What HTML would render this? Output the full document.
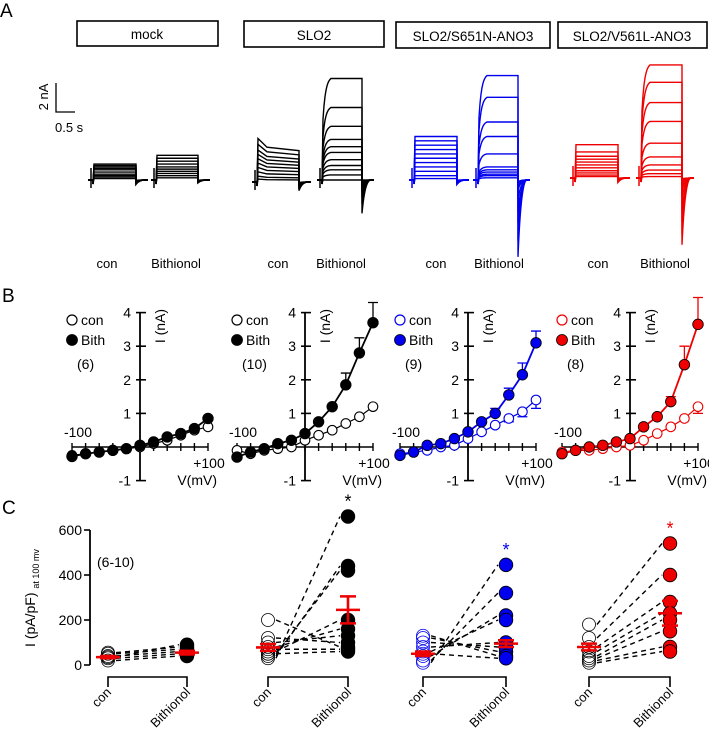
<!DOCTYPE html>
<html><head><meta charset="utf-8">
<style>
html,body{margin:0;padding:0;background:#fff;}
svg{display:block;font-family:"Liberation Sans",Arial,sans-serif;}
</style></head>
<body>
<svg id="fig" width="709" height="742" viewBox="0 0 709 742" xmlns="http://www.w3.org/2000/svg">
<text x="0" y="17" font-size="19">A</text>
<g font-size="13.5" text-anchor="middle" fill="none">
 <rect x="77" y="21" width="141" height="25" stroke="#000" stroke-width="1.6"/>
 <text x="147" y="39" fill="#000">mock</text>
 <rect x="244" y="21" width="140" height="26" stroke="#000" stroke-width="1.6"/>
 <text x="314" y="40" fill="#000">SLO2</text>
 <rect x="396" y="22" width="154" height="26" stroke="#000" stroke-width="1.6"/>
 <text x="473" y="41" fill="#000">SLO2/S651N-ANO3</text>
 <rect x="558" y="22" width="149" height="26" stroke="#000" stroke-width="1.6"/>
 <text x="632" y="41" fill="#000">SLO2/V561L-ANO3</text>
</g>
<g>
 <path d="M56 83 V112 H75" stroke="#000" stroke-width="1.3" fill="none"/>
 <text transform="translate(48,97) rotate(-90)" font-size="13" text-anchor="middle">2 nA</text>
 <text x="55" y="132" font-size="13">0.5 s</text>
</g>
<g id="traces"></g>
<g font-size="13" text-anchor="middle">
 <text x="107" y="268">con</text><text x="176" y="268">Bithionol</text>
 <text x="278" y="268">con</text><text x="341" y="268">Bithionol</text>
 <text x="436" y="268">con</text><text x="499" y="268">Bithionol</text>
 <text x="598" y="268">con</text><text x="665" y="268">Bithionol</text>
</g>
<text x="2" y="302" font-size="19">B</text>
<g id="ivs"></g>
<text x="2" y="514" font-size="19">C</text>
<g id="scat"></g>
</svg>
<script>
// ---------- Panel A data (nA, relative to holding) ----------
const traceColors = ['#000','#000','#0000ee','#ee0000'];
const mockCon = [1.1,1.0,0.9,0.8,0.7,0.55,0.4,0.3,0.2,0.1];
const mockBith = [1.7,1.5,1.3,1.1,0.9,0.75,0.6,0.45,0.3,0.15];
const sloCon = [3.0,2.6,2.2,1.9,1.6,1.3,1.0,0.7,0.4,0.2];
const sloBith = [7.0,5.0,3.7,2.8,2.3,1.9,1.4,1.0,0.7,0.35,0.0];
const blueCon = [3.0,2.7,2.4,2.1,1.8,1.5,1.2,0.9,0.6,0.3,0.1];
const blueBith = [7.2,5.7,4.0,3.0,1.8,0.9,0.7,0.55,0.4,0.3,0.15];
const redCon = [2.3,1.8,1.5,1.3,1.1,0.9,0.7,0.5,0.35,0.2,0.1];
const redBith = [7.8,6.6,5.2,3.9,2.4,1.45,0.9,0.55,0.3,0.1];
const tailMax = [0.3,0.2,0.6,2.3,0.3,5.3,0.3,4.6];

// ---------- Panel B data ----------
const voltages = [-100,-80,-60,-40,-20,0,20,40,60,80,100];
const ivCon = [
 [-0.25,-0.2,-0.15,-0.1,-0.05,0,0.1,0.2,0.35,0.5,0.6],
 [-0.1,-0.2,-0.1,-0.05,0,0.2,0.35,0.5,0.7,0.9,1.2],
 [-0.2,-0.15,-0.1,0,0.05,0.25,0.45,0.65,0.85,1.05,1.4],
 [-0.15,-0.1,-0.1,-0.05,0,0.05,0.2,0.4,0.6,0.85,1.2]];
const ivBith = [
 [-0.28,-0.2,-0.15,-0.1,-0.05,0.05,0.15,0.3,0.4,0.55,0.85],
 [-0.3,-0.15,-0.05,0.1,0.2,0.4,0.75,1.2,1.85,2.8,3.7],
 [-0.25,-0.15,0.05,0.1,0.25,0.45,0.75,1.0,1.55,2.15,3.1],
 [-0.2,-0.1,0,0.05,0.15,0.25,0.6,0.9,1.35,2.45,3.65]];
const ivBithErr = [
 [0,0,0,0,0,0,0,0,0,0,0],
 [0,0,0,0,0,0,0,0,0.35,0.45,0.6],
 [0,0,0,0,0,0,0,0.15,0.2,0.35,0.35],
 [0,0,0,0,0,0,0,0,0.15,0.55,0.8]];
const ivConErr = [
 [0,0,0,0,0,0,0,0,0,0,0],
 [0,0,0,0,0,0,0,0,0,0,0],
 [0,0,0,0,0,0,0,0,0.1,0.15,0.25],
 [0,0,0,0,0,0,0,0,0,0,0.2]];
const ivN = ['(6)','(10)','(9)','(8)'];
const yTicksB = [-1,1,2,3,4];

// ---------- Panel C data (pA/pF) ----------
const pcCon = [
 [20,30,40,50,55,35],
 [30,40,50,60,80,100,120,200,70,50],
 [10,20,40,60,80,100,120,130,50],
 [180,120,80,60,40,30,20,10]];
const pcBith = [
 [40,50,60,70,80,90],
 [660,440,420,200,160,130,100,80,70,60],
 [445,320,220,200,100,80,60,40,30],
 [540,400,280,230,200,150,80,60]];
const pcConMean = [35,78,50,80];
const pcConSem = [5,15,10,15];
const pcBithMean = [55,245,95,230];
const pcBithSem = [8,60,15,55];
const yTicksC = [0,200,400,600];

const NS='http://www.w3.org/2000/svg';
function mk(tag,parent){const e=document.createElementNS(NS,tag);parent.appendChild(e);return e;}

// ---------- Draw panel A ----------
const T=document.getElementById('traces');
const pxPerNA=14.5;
const traceSets=[
 {lv:mockCon,x0:93,x1:136,base:180,c:0,slow:false},
 {lv:mockBith,x0:156,x1:198,base:180,c:1,slow:false},
 {lv:sloCon,x0:257,x1:299,base:182,c:0,slow:false,decay:true},
 {lv:sloBith,x0:322,x1:362,base:180,c:1,slow:true},
 {lv:blueCon,x0:414,x1:457,base:180,c:2,slow:false},
 {lv:blueBith,x0:478,x1:518,base:180,c:2,slow:true},
 {lv:redCon,x0:575,x1:618,base:178,c:3,slow:false},
 {lv:redBith,x0:641,x1:682,base:178,c:3,slow:true}];
traceSets.forEach((s,si)=>{
 const col=traceColors[s.c];
 const g=mk('g',T);
 
 
 const spike=mk('path',g);
 
 
 spike.setAttribute('d',`M${s.x0-2} ${s.base-12} V${s.base+8}`);
 spike.setAttribute('stroke',col);
 spike.setAttribute('stroke-width','1.5');
 const mx=Math.max(...s.lv);
 s.lv.forEach(v=>{
  const p=mk('path',g);
  
  
  const yL=s.base-v*pxPerNA;
  let d=`M${s.x0-5} ${s.base} H${s.x0} V${s.base+4} `;
  if(s.slow){
   d+=`L${s.x0+1} ${s.base-v*pxPerNA*0.6} `;
   for(let k=1;k<=8;k++){const t=k/8;d+=`L${s.x0+1+t*8} ${s.base-v*pxPerNA*(0.6+0.4*(1-Math.exp(-3*t))/(1-Math.exp(-3)))} `;}
   d+=`H${s.x1} `;
  } else if(s.decay){
   d+=`L${s.x0+1} ${yL} L${s.x0+10} ${s.base-v*pxPerNA*0.8} L${s.x1} ${s.base-v*pxPerNA*0.72} `;
  } else {
   d+=`L${s.x0+1} ${yL} H${s.x1} `;
  }
  const tl=tailMax[si]*v/mx;
  d+=`V${s.base+tl*pxPerNA} Q${s.x1+3} ${s.base} ${s.x1+9} ${s.base} H${s.x1+12}`;
  p.setAttribute('d',d);
  p.setAttribute('fill','none');
  p.setAttribute('stroke',col);
  p.setAttribute('stroke-width','1.4');
 });
});

// ---------- Draw panel B ----------
const IV=document.getElementById('ivs');
const axX=[140,305,468,630];
const y0B=447, pxNA=33.6, pxMV=0.68;
const ivColors=['#000','#000','#0000ee','#ee0000'];
for(let p=0;p<4;p++){
 const g=mk('g',IV);
 
 
 const ax=axX[p], col=ivColors[p];
 const sx=v=>ax+v*pxMV, sy=i=>y0B-i*pxNA;
 const xa=mk('line',g);
 
 
 xa.setAttribute('x1',sx(-100));xa.setAttribute('x2',sx(100));xa.setAttribute('y1',y0B);xa.setAttribute('y2',y0B);
 xa.setAttribute('stroke','#000');xa.setAttribute('stroke-width','1.6');
 voltages.forEach(v=>{const t=mk('line',g);t.setAttribute('x1',sx(v));t.setAttribute('x2',sx(v));t.setAttribute('y1',y0B-4);t.setAttribute('y2',y0B+4);t.setAttribute('stroke','#000');t.setAttribute('stroke-width','1.4');});
 const yax=mk('line',g);
 
 
 yax.setAttribute('x1',ax);yax.setAttribute('x2',ax);yax.setAttribute('y1',sy(4));yax.setAttribute('y2',sy(-1));
 yax.setAttribute('stroke','#000');yax.setAttribute('stroke-width','1.8');
 yTicksB.forEach(v=>{const t=mk('line',g);t.setAttribute('x1',ax-4);t.setAttribute('x2',ax+6);t.setAttribute('y1',sy(v));t.setAttribute('y2',sy(v));t.setAttribute('stroke','#000');t.setAttribute('stroke-width','1.6');
  const l=mk('text',g);l.setAttribute('x',ax-9);l.setAttribute('y',sy(v)+5);l.setAttribute('font-size','14');l.setAttribute('text-anchor','end');l.textContent=v;});
 const ytt=mk('text',g);
 
 
 ytt.setAttribute('transform',`translate(${ax+25},${sy(3.6)}) rotate(-90)`);ytt.setAttribute('font-size','14');ytt.setAttribute('text-anchor','middle');ytt.textContent='I (nA)';
 const xl=mk('text',g);
 
 
 xl.setAttribute('x',sx(-100)+6);xl.setAttribute('y',y0B-10);xl.setAttribute('font-size','14');xl.setAttribute('text-anchor','middle');xl.textContent='-100';
 const xr=mk('text',g);
 
 
 xr.setAttribute('x',sx(100)+1);xr.setAttribute('y',y0B+21);xr.setAttribute('font-size','14');xr.setAttribute('text-anchor','middle');xr.textContent='+100';
 const xt=mk('text',g);
 
 
 xt.setAttribute('x',sx(100)+9);xt.setAttribute('y',y0B+38);xt.setAttribute('font-size','14');xt.setAttribute('text-anchor','end');xt.textContent='V(mV)';
 const lx=ax-68;
 const c1=mk('circle',g);
 
 
 c1.setAttribute('cx',lx);c1.setAttribute('cy',320);c1.setAttribute('r',5);c1.setAttribute('fill','#fff');c1.setAttribute('stroke',col);c1.setAttribute('stroke-width','1.2');
 const t1=mk('text',g);
 
 
 t1.setAttribute('x',lx+9);t1.setAttribute('y',325);t1.setAttribute('font-size','14');t1.textContent='con';
 const c2=mk('circle',g);
 
 
 c2.setAttribute('cx',lx);c2.setAttribute('cy',340);c2.setAttribute('r',5.5);c2.setAttribute('fill',col);c2.setAttribute('stroke','#000');c2.setAttribute('stroke-width','0.8');
 const t2=mk('text',g);
 
 
 t2.setAttribute('x',lx+9);t2.setAttribute('y',345);t2.setAttribute('font-size','14');t2.textContent='Bith';
 const tn=mk('text',g);
 
 
 tn.setAttribute('x',lx+5);tn.setAttribute('y',369);tn.setAttribute('font-size','14');tn.textContent=ivN[p];
 [[ivCon[p],ivConErr[p],false],[ivBith[p],ivBithErr[p],true]].forEach(([vals,errs,filled])=>{
  const sg=mk('g',g);
  
  
  const ln=mk('polyline',sg);
  ln.setAttribute('points',vals.map((v,i)=>sx(voltages[i])+','+sy(v)).join(' '));
  ln.setAttribute('fill','none');ln.setAttribute('stroke',col);ln.setAttribute('stroke-width',filled?1.8:1.2);
  vals.forEach((v,i)=>{
   if(errs[i]>0){const e=mk('path',sg);const x=sx(voltages[i]),y=sy(v),ye=sy(v+(filled?1:-1)*errs[i]);
    e.setAttribute('d',`M${x} ${y} V${ye} M${x-5} ${ye} H${x+5}`);e.setAttribute('stroke',col);e.setAttribute('stroke-width','1.3');}
  });
  vals.forEach((v,i)=>{
   const c=mk('circle',sg);
   
   
   c.setAttribute('cx',sx(voltages[i]));c.setAttribute('cy',sy(v));c.setAttribute('r',filled?5.3:4.8);
   c.setAttribute('fill',filled?col:'#fff');c.setAttribute('stroke',filled?'#000':col);c.setAttribute('stroke-width',filled?0.8:1.1);
  });
 });
}

// ---------- Draw panel C ----------
const SC=document.getElementById('scat');
const conX=[108,268,423,589], bithX=[187,348,506,670];
const y0C=665, pxU=135/600;
const scCol=['#000','#000','#0000ee','#ee0000'];
const syC=v=>y0C-v*pxU;
const yaC=mk('line',SC);


yaC.setAttribute('x1',90);yaC.setAttribute('x2',90);yaC.setAttribute('y1',syC(600));yaC.setAttribute('y2',syC(0));yaC.setAttribute('stroke','#000');yaC.setAttribute('stroke-width','1.8');
yTicksC.forEach(v=>{const t=mk('line',SC);t.setAttribute('x1',84);t.setAttribute('x2',90);t.setAttribute('y1',syC(v));t.setAttribute('y2',syC(v));t.setAttribute('stroke','#000');t.setAttribute('stroke-width','1.6');
 const l=mk('text',SC);l.setAttribute('x',82);l.setAttribute('y',syC(v)+5);l.setAttribute('font-size','14');l.setAttribute('text-anchor','end');l.textContent=v;});
const ytC=mk('text',SC);


ytC.setAttribute('transform','translate(35,598) rotate(-90)');ytC.setAttribute('font-size','14');ytC.setAttribute('text-anchor','middle');
ytC.appendChild(document.createTextNode('I (pA/pF) '));
const sub=mk('tspan',ytC);
sub.setAttribute('font-size','9');sub.setAttribute('dy','4');sub.textContent='at 100 mv';
const nl=mk('text',SC);


nl.setAttribute('x',97);nl.setAttribute('y',567);nl.setAttribute('font-size','14');nl.textContent='(6-10)';
const stars=[null,'#000','#0000ee','#ee0000'];
for(let p=0;p<4;p++){
 const g=mk('g',SC);
 
 
 const cx=conX[p],bx=bithX[p],col=scCol[p];
 const br=mk('path',g);
 
 
 br.setAttribute('d',`M${cx} 687 V677 H${bx} V687`);br.setAttribute('fill','none');br.setAttribute('stroke','#000');br.setAttribute('stroke-width','1.6');
 [['con',cx],['Bithionol',bx]].forEach(([s,x])=>{const t=mk('text',g);
  
  
  t.setAttribute('transform',`translate(${x+4},693) rotate(-45)`);t.setAttribute('font-size','13');t.setAttribute('text-anchor','end');t.textContent=s;});
 const n=Math.min(pcCon[p].length,pcBith[p].length);
 for(let i=0;i<n;i++){const l=mk('line',g);
  
  
  l.setAttribute('x1',cx+8);l.setAttribute('y1',syC(pcCon[p][i]));l.setAttribute('x2',bx-8);l.setAttribute('y2',syC(pcBith[p][i]));
  l.setAttribute('stroke','#000');l.setAttribute('stroke-width','1.4');l.setAttribute('stroke-dasharray','5,4');}
 pcCon[p].forEach(v=>{const c=mk('circle',g);
  
  
  c.setAttribute('cx',cx);c.setAttribute('cy',syC(v));c.setAttribute('r',6.5);c.setAttribute('fill','none');c.setAttribute('stroke',p==2?'#0000ee':'#000');c.setAttribute('stroke-width','0.8');});
 pcBith[p].forEach(v=>{const c=mk('circle',g);
  
  
  c.setAttribute('cx',bx);c.setAttribute('cy',syC(v));c.setAttribute('r',6.8);c.setAttribute('fill',col);c.setAttribute('stroke','#000');c.setAttribute('stroke-width','0.8');});
 [[cx,pcConMean[p],pcConSem[p]],[bx,pcBithMean[p],pcBithSem[p]]].forEach(([x,m,s])=>{
  const e=mk('path',g);
  
  
  e.setAttribute('d',`M${x-12} ${syC(m)} H${x+12} M${x} ${syC(m-s)} V${syC(m+s)} M${x-8} ${syC(m+s)} H${x+8} M${x-8} ${syC(m-s)} H${x+8}`);
  e.setAttribute('stroke','#ee0000');e.setAttribute('stroke-width','2.6');e.setAttribute('fill','none');});
 if(stars[p]){const st=mk('text',g);
  
  
  st.setAttribute('x',bx);st.setAttribute('y',syC(Math.max(...pcBith[p]))-9);st.setAttribute('font-size','18');st.setAttribute('text-anchor','middle');st.setAttribute('fill',stars[p]);st.textContent='*';}
}
</script>
</body></html>
